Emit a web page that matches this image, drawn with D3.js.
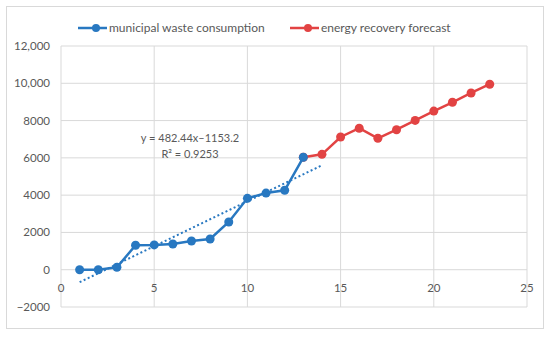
<!DOCTYPE html>
<html>
<head>
<meta charset="utf-8">
<script src="https://cdn.jsdelivr.net/npm/d3@7"></script>
<style>
  body { margin: 0; background: #fff; }
  text { font-family: Lato, "Open Sans", sans-serif; fill: #595959; }
</style>
</head>
<body>
<script>
// data
var wasteX = [1, 2, 3, 4, 5, 6, 7, 8, 9, 10, 11, 12, 13]
var wasteY = [0, 0, 130, 1310, 1330, 1380, 1540, 1650, 2560, 3830, 4110, 4260, 6030]
var forecastX = [13, 14, 15, 16, 17, 18, 19, 20, 21, 22, 23]
var forecastY = [6030, 6190, 7120, 7590, 7050, 7510, 8010, 8510, 8980, 9480, 9950]
var trendX = [1, 14]
var trendCoef = [482.44, -1153.2]   // slope, intercept
var xTicks = [0, 5, 10, 15, 20, 25]
var yTicks = [-2000, 0, 2000, 4000, 6000, 8000, 10000, 12000]
var yTickLabels = ["\u22122000", "0", "2000", "4000", "6000", "8000", "10,000", "12,000"]
var legendNames = ["municipal waste consumption", "energy recovery forecast"]

var blue = "#2878c1", red = "#e24343"

var svg = d3.select("body").append("svg")
  .attr("width", 550)
  .attr("height", 337)

// outer chart frame
svg.append("rect")
  .attr("x", 6.5).attr("y", 6.5)
  .attr("width", 537).attr("height", 322)
  .attr("fill", "#fff").attr("stroke", "#d9d9d9")

var x = d3.scaleLinear().domain([0, 25]).range([61, 527])
var y = d3.scaleLinear().domain([-2000, 12000]).range([307, 46])

// grid
svg.append("g").selectAll("line").data(xTicks).enter().append("line")
  .attr("x1", d => x(d)).attr("x2", d => x(d))
  .attr("y1", y(12000)).attr("y2", y(-2000))
  .attr("stroke", "#d9d9d9")
svg.append("g").selectAll("line").data(yTicks).enter().append("line")
  .attr("x1", x(0)).attr("x2", x(25))
  .attr("y1", d => y(d)).attr("y2", d => y(d))
  .attr("stroke", "#d9d9d9")

// y labels
svg.append("g").selectAll("text").data(yTicks).enter().append("text")
  .attr("x", 50).attr("y", d => y(d) + 4)
  .attr("text-anchor", "end")
  .attr("font-size", 11.5)
  .text((d, i) => yTickLabels[i])

// x labels sit just under the zero line
svg.append("g").selectAll("text").data(xTicks).enter().append("text")
  .attr("x", d => x(d)).attr("y", y(0) + 22)
  .attr("text-anchor", "middle")
  .attr("font-size", 11.5)
  .text(d => d)

var line = d3.line().x(d => x(d[0])).y(d => y(d[1]))

function series(xs, ys, color) {
  var pts = xs.map((v, i) => [v, ys[i]])
  svg.append("path").datum(pts)
    .attr("d", line)
    .attr("fill", "none").attr("stroke", color).attr("stroke-width", 2.5)
  svg.append("g").selectAll("circle").data(pts).enter().append("circle")
    .attr("cx", d => x(d[0])).attr("cy", d => y(d[1]))
    .attr("r", 4.5).attr("fill", color)
}

series(forecastX, forecastY, red)
series(wasteX, wasteY, blue)

// linear trendline
var trendPts = trendX.map(v => [v, trendCoef[0] * v + trendCoef[1]])
svg.append("path").datum(trendPts)
  .attr("d", line)
  .attr("fill", "none").attr("stroke", blue)
  .attr("stroke-width", 2).attr("stroke-dasharray", "2,2.5")

svg.append("text").attr("x", 190).attr("y", 142)
  .attr("text-anchor", "middle").attr("font-size", 11)
  .text("y = 482.44x\u20131153.2")
svg.append("text").attr("x", 190).attr("y", 158)
  .attr("text-anchor", "middle").attr("font-size", 11)
  .text("R\u00b2 = 0.9253")

// legend
var legX = [78, 290]
legendNames.forEach(function (name, i) {
  var c = i == 0 ? blue : red
  var g = svg.append("g").attr("transform", "translate(" + legX[i] + ",28)")
  g.append("line").attr("x1", 0).attr("x2", 29).attr("stroke", c).attr("stroke-width", 2.5)
  g.append("circle").attr("cx", 18).attr("r", 4).attr("fill", c)
  g.append("text").attr("x", 31).attr("y", 4).attr("font-size", 12).text(name)
})
</script>
</body>
</html>
